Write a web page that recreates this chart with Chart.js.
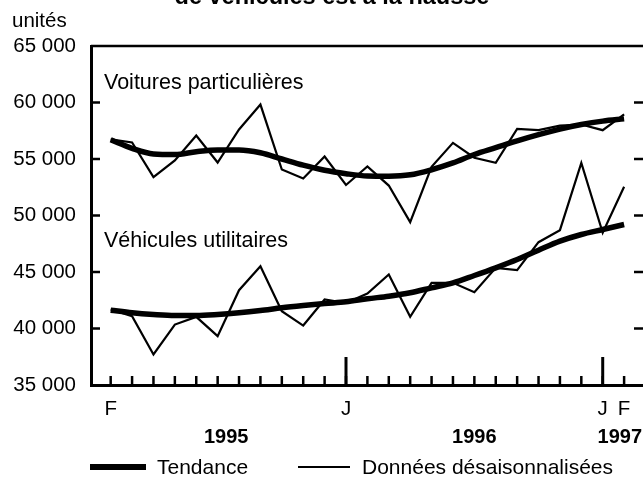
<!DOCTYPE html>
<html>
<head>
<meta charset="utf-8">
<script src="https://cdn.jsdelivr.net/npm/chart.js@4/dist/chart.umd.min.js"></script>
<style>
html,body{margin:0;padding:0;background:#fff;overflow:hidden;width:643px;height:484px;}
#wrap{position:absolute;left:0;top:0;width:650px;height:484px;}
</style>
</head>
<body>
<div id="wrap"><canvas id="c" width="650" height="484"></canvas></div>
<script>
// ---- Data (Feb 1995 .. Feb 1997, monthly) ----
const monthLetters = ['F','M','A','M','J','J','A','S','O','N','D','J','F','M','A','M','J','J','A','S','O','N','D','J','F'];
const shownMonthIdx = [0, 11, 23, 24];
const janIdx = [11, 23];
const years = ['1995', '1996', '1997'];
const yTicks = [35000, 40000, 45000, 50000, 55000, 60000, 65000];

const voituresDes = [56730,56460,53390,54870,57080,54690,57610,59820,54070,53270,55220,52700,54340,52650,49410,54310,56430,55110,54660,57670,57550,57960,58050,57550,58940];
const voituresTend = [56700,55950,55450,55400,55650,55800,55800,55550,55000,54450,54000,53700,53500,53480,53600,54050,54650,55400,56000,56600,57150,57650,58050,58350,58550];
const utilDes = [41680,41090,37700,40350,41030,39320,43390,45510,41530,40260,42570,42260,43100,44780,41030,44040,44040,43210,45370,45160,47640,48700,54660,48470,52540];
const utilTend = [41620,41390,41240,41150,41150,41240,41390,41590,41830,42030,42210,42360,42630,42860,43160,43600,44040,44690,45370,46100,46930,47730,48320,48760,49200];

const seriesNames = ['Voitures particulières', 'Véhicules utilitaires'];
const legendNames = ['Tendance', 'Données désaisonnalisées'];
const unitLabel = 'unités';
const titleText = 'de véhicules est à la hausse';

const toPts = arr => arr.map((v, i) => ({x: i, y: v}));
const FONT = '"Liberation Sans", Arial, sans-serif';

const fmt = v => String(v).replace(/\B(?=(\d{3})+(?!\d))/g, ' ');

const extras = {
  id: 'extras',
  afterDraw(chart) {
    const ctx = chart.ctx;
    const a = chart.chartArea;
    const xs = chart.scales.x, ys = chart.scales.y;
    ctx.save();
    ctx.strokeStyle = '#000';
    ctx.fillStyle = '#000';
    // top frame line
    ctx.lineWidth = 2.5;
    ctx.beginPath(); ctx.moveTo(a.left, a.top); ctx.lineTo(a.right, a.top); ctx.stroke();
    // y ticks (inward, left and right)
    yTicks.slice(1, -1).forEach(v => {
      const y = ys.getPixelForValue(v);
      ctx.beginPath(); ctx.moveTo(a.left, y); ctx.lineTo(a.left + 9, y); ctx.stroke();
      ctx.beginPath(); ctx.moveTo(a.right - 10, y); ctx.lineTo(a.right, y); ctx.stroke();
    });
    // x ticks (inward)
    monthLetters.forEach((m, i) => {
      const x = xs.getPixelForValue(i);
      ctx.beginPath(); ctx.moveTo(x, a.bottom); ctx.lineTo(x, a.bottom - 9); ctx.stroke();
    });
    ctx.lineWidth = 3;
    janIdx.forEach(i => {
      const x = xs.getPixelForValue(i);
      ctx.beginPath(); ctx.moveTo(x, a.bottom); ctx.lineTo(x, a.bottom - 28); ctx.stroke();
    });
    // year labels
    ctx.font = 'bold 20px ' + FONT;
    ctx.textAlign = 'center'; ctx.textBaseline = 'middle';
    ctx.fillText(years[0], xs.getPixelForValue(5.4), 437);
    ctx.fillText(years[1], xs.getPixelForValue(17), 437);
    ctx.fillText(years[2], xs.getPixelForValue(23.8), 437);
    // series labels
    ctx.font = '21.5px ' + FONT;
    ctx.textAlign = 'left';
    ctx.fillText(seriesNames[0], 104, 83);
    ctx.fillText(seriesNames[1], 104, 241);
    // unit label
    ctx.font = '20.5px ' + FONT;
    ctx.fillText(unitLabel, 12, 21);
    // title (cut off at top)
    ctx.font = 'bold 23.5px ' + FONT;
    ctx.textAlign = 'center'; ctx.textBaseline = 'alphabetic';
    ctx.fillText(titleText, 332, 4);
    // legend
    ctx.textBaseline = 'middle'; ctx.textAlign = 'left';
    ctx.font = '21px ' + FONT;
    ctx.lineWidth = 6;
    ctx.beginPath(); ctx.moveTo(90, 467); ctx.lineTo(146, 467); ctx.stroke();
    ctx.fillText(legendNames[0], 157, 468);
    ctx.lineWidth = 2;
    ctx.beginPath(); ctx.moveTo(298, 467); ctx.lineTo(350, 467); ctx.stroke();
    ctx.fillText(legendNames[1], 362, 468);
    ctx.restore();
  }
};

new Chart(document.getElementById('c'), {
  type: 'line',
  data: {
    datasets: [
      {label: seriesNames[0] + ' – ' + legendNames[0], data: toPts(voituresTend), borderColor: '#000', borderWidth: 5.5, pointRadius: 0, cubicInterpolationMode: 'monotone'},
      {label: seriesNames[0] + ' – ' + legendNames[1], data: toPts(voituresDes), borderColor: '#000', borderWidth: 2.2, pointRadius: 0, tension: 0},
      {label: seriesNames[1] + ' – ' + legendNames[0], data: toPts(utilTend), borderColor: '#000', borderWidth: 5.5, pointRadius: 0, cubicInterpolationMode: 'monotone'},
      {label: seriesNames[1] + ' – ' + legendNames[1], data: toPts(utilDes), borderColor: '#000', borderWidth: 2.2, pointRadius: 0, tension: 0}
    ]
  },
  options: {
    responsive: false,
    animation: false,
    devicePixelRatio: 1,
    layout: {padding: {left: 0, top: 46, right: 6, bottom: 69}},
    plugins: {legend: {display: false}, tooltip: {enabled: false}, title: {display: false}},
    scales: {
      x: {
        type: 'linear', min: -0.92, max: 24.93,
        afterBuildTicks: s => { s.ticks = monthLetters.map((m, i) => ({value: i})); },
        afterFit: s => { s.height = 30; },
        grid: {display: false, drawTicks: false},
        border: {display: true, color: '#000', width: 3},
        ticks: {
          autoSkip: false, maxRotation: 0, padding: 12, color: '#000',
          font: {family: FONT, size: 20.5},
          callback: v => shownMonthIdx.includes(v) ? monthLetters[v] : ''
        }
      },
      y: {
        min: 35000, max: 65000,
        afterBuildTicks: s => { s.ticks = yTicks.map(v => ({value: v})); },
        afterFit: s => { s.width = 91; },
        grid: {display: false, drawTicks: false},
        border: {display: true, color: '#000', width: 3},
        ticks: {padding: 15, color: '#000', font: {family: FONT, size: 20.5}, callback: v => fmt(v)}
      }
    }
  },
  plugins: [extras]
});
</script>
</body>
</html>
